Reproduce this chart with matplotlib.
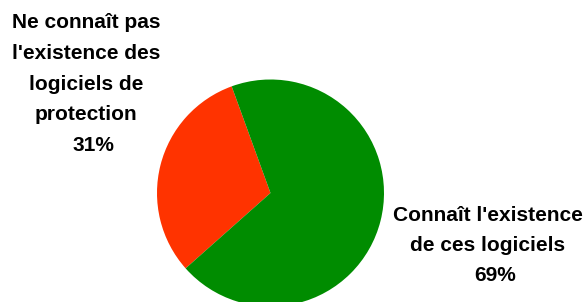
import matplotlib
matplotlib.use("Agg")
import matplotlib.pyplot as plt

# data
categories = ["Ne connaît pas l'existence des logiciels de protection",
              "Connaît l'existence de ces logiciels"]
shares = [31, 69]
colors = ["#ff3300", "#008c00"]

left_lines = ["Ne connaît pas", "l'existence des", "logiciels de", "protection"]
right_lines = ["Connaît l'existence", "de ces logiciels"]

W, H = 586, 302
fig = plt.figure(figsize=(W / 100, H / 100), dpi=100)
ax = fig.add_axes([0, 0, 1, 1])

ax.pie(shares, colors=colors, startangle=110, counterclock=True,
       center=(270.5, H - 193), radius=113.5, frame=True,
       wedgeprops=dict(linewidth=0))
ax.set_xlim(0, W)
ax.set_ylim(0, H)
ax.set_aspect("equal")
ax.axis("off")

font = dict(family="Liberation Sans", fontweight="bold", fontsize=15,
            color="black", ha="center", va="baseline")

# left label
for i, line in enumerate(left_lines):
    ax.text(86, H - (28 + 30.8 * i), line, **font)
ax.text(93, H - 151, f"{shares[0]}%", **font)

# right label
for i, line in enumerate(right_lines):
    ax.text(488, H - (221 + 30 * i), line, **font)
ax.text(495, H - 281, f"{shares[1]}%", **font)

fig.savefig("out.png", dpi=100)
